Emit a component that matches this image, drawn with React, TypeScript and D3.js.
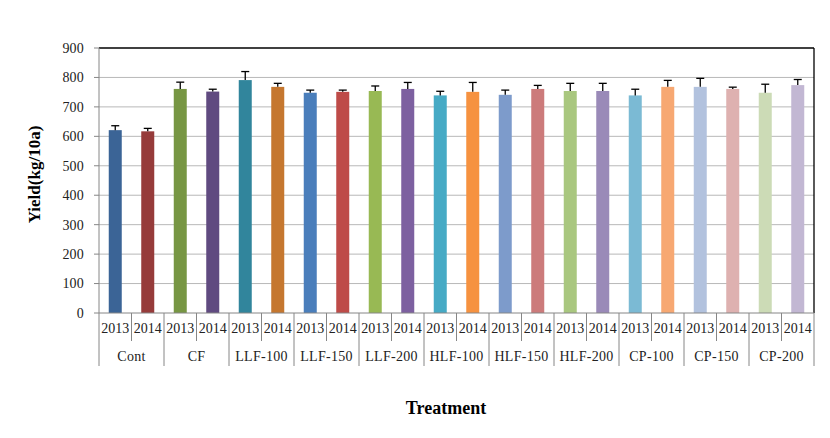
import React from "react";
import * as d3 from "d3";

const groups = ["Cont", "CF", "LLF-100", "LLF-150", "LLF-200", "HLF-100", "HLF-150", "HLF-200", "CP-100", "CP-150", "CP-200"];
const years = ["2013", "2014"];
const values2013 = [621, 761, 791, 748, 754, 739, 741, 754, 739, 768, 748];
const values2014 = [617, 752, 768, 751, 761, 751, 761, 754, 768, 761, 774];
const errors2013 = [15, 23, 29, 9, 17, 14, 16, 26, 21, 29, 29];
const errors2014 = [10, 8, 12, 6, 22, 32, 12, 26, 22, 6, 19];
const colors2013 = ["#3B6496", "#779643", "#31859C", "#4A7EBB", "#98B954", "#46AAC5", "#7D9BCB", "#A9C77F", "#7BBAD4", "#B2C2DE", "#CCDBB6"];
const colors2014 = ["#963B3A", "#604A80", "#C5772F", "#BE4B48", "#7D60A0", "#F69240", "#CC7B7B", "#9A8AB8", "#F7A872", "#DEB1B0", "#C2B7D3"];
const yTicks = [0, 100, 200, 300, 400, 500, 600, 700, 800, 900];

const W = 830, H = 438;
const L = 99, R = 814, T = 48, B = 313;
const font = "'Liberation Serif', 'Times New Roman', serif";

export default function App() {
  const bars = groups.flatMap((g, i) => [
    { key: g + "-2013", group: g, year: years[0], v: values2013[i], e: errors2013[i], c: colors2013[i] },
    { key: g + "-2014", group: g, year: years[1], v: values2014[i], e: errors2014[i], c: colors2014[i] },
  ]);
  const x = d3.scaleBand<string>().domain(bars.map((b) => b.key)).range([L, R]).paddingInner(0).paddingOuter(0);
  const xg = d3.scaleBand<string>().domain(groups).range([L, R]);
  const y = d3.scaleLinear().domain([0, 900]).range([B, T]);
  const bw = 13;
  const cap = 4;

  return (
    <svg width={W} height={H} style={{ position: "absolute", left: 0, top: 0, background: "#fff" }} fontFamily={font}>
      {yTicks.map((t) => (
        <g key={t}>
          {t > 0 && t < 900 && <line x1={L} x2={R} y1={y(t)} y2={y(t)} stroke="#B8B8B8" strokeWidth={1} />}
          <line x1={L - 5} x2={L} y1={y(t)} y2={y(t)} stroke="#868686" strokeWidth={1} />
          <text x={L - 15} y={y(t)} dy="0.35em" textAnchor="end" fontSize={14} letterSpacing={0.2} fill="#222">{t}</text>
        </g>
      ))}
      {bars.map((b) => {
        const cx = (x(b.key) as number) + x.bandwidth() / 2;
        return (
          <g key={b.key}>
            <rect x={cx - bw / 2} y={y(b.v)} width={bw} height={B - y(b.v)} fill={b.c} />
            <line x1={cx} x2={cx} y1={y(b.v)} y2={y(b.v + b.e)} stroke="#000" strokeWidth={1.3} />
            <line x1={cx - cap} x2={cx + cap} y1={y(b.v + b.e)} y2={y(b.v + b.e)} stroke="#000" strokeWidth={1.3} />
          </g>
        );
      })}
      <line x1={L} x2={R} y1={T} y2={T} stroke="#000" strokeWidth={1.3} />
      <line x1={R} x2={R} y1={T} y2={B} stroke="#000" strokeWidth={1.3} />
      <line x1={L} x2={L} y1={T} y2={B} stroke="#868686" strokeWidth={1} />
      <line x1={L} x2={R} y1={B} y2={B} stroke="#868686" strokeWidth={1} />
      {bars.map((b, i) => {
        const x0 = x(b.key) as number;
        const cx = x0 + x.bandwidth() / 2;
        return (
          <g key={"lab" + b.key}>
            {i % 2 === 1 && <line x1={x0} x2={x0} y1={B} y2={341} stroke="#868686" strokeWidth={1} />}
            <text x={cx} y={333} textAnchor="middle" fontSize={14} fill="#222">{b.year}</text>
          </g>
        );
      })}
      {groups.map((g) => (
        <g key={"g" + g}>
          <line x1={xg(g) as number} x2={xg(g) as number} y1={B} y2={366} stroke="#868686" strokeWidth={1} />
          <text x={(xg(g) as number) + xg.bandwidth() / 2} y={361} textAnchor="middle" fontSize={14} letterSpacing={0.3} fill="#222">{g}</text>
        </g>
      ))}
      <line x1={R} x2={R} y1={B} y2={366} stroke="#868686" strokeWidth={1} />
      <text transform={`translate(40,${(T + B) / 2 - 6}) rotate(-90)`} textAnchor="middle" fontSize={17} fontWeight="bold" fill="#000">Yield(kg/10a)</text>
      <text x={446} y={414} textAnchor="middle" fontSize={18} fontWeight="bold" fill="#000">Treatment</text>
    </svg>
  );
}
